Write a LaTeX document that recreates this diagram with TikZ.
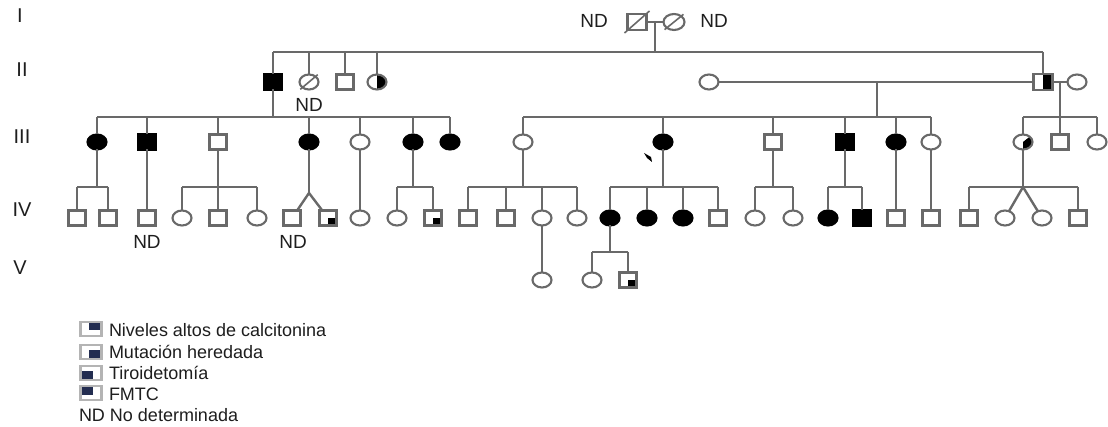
\documentclass[tikz,border=0pt]{standalone}
\usepackage{fontspec}
\setmainfont{Liberation Sans}
\usetikzlibrary{shapes.geometric}
\definecolor{lncol}{RGB}{105,105,105}
\definecolor{txcol}{RGB}{30,30,30}
\definecolor{lgcol}{RGB}{180,180,180}
\definecolor{nvcol}{RGB}{35,45,80}
\begin{document}
\begin{tikzpicture}[x=1pt,y=-1pt,
  every node/.style={inner sep=0pt, outer sep=0pt},
  ln/.style={draw=lncol, line width=2.4pt},
  sq/.style={rectangle, draw=lncol, line width=2.1pt, fill=white, minimum width=17pt, minimum height=15pt},
  ci/.style={ellipse, draw=lncol, line width=2.1pt, fill=white, minimum width=19pt, minimum height=15pt},
  aff/.style={fill=black, draw=black},
  halfr/.style={path picture={\fill[black] (path picture bounding box.north) rectangle (path picture bounding box.south east);}},
  mut/.style={path picture={\fill[black] (path picture bounding box.center) rectangle ([shift={(-1,-1)}]path picture bounding box.south east);}},
  wedge/.style={path picture={\fill[black] (path picture bounding box.center) -- (path picture bounding box.north east) |- (path picture bounding box.south) -- cycle;}},
  slash/.style={draw=lncol, line width=1.6pt},
  lab/.style={font=\fontsize{20}{22}\selectfont, text=txcol},
  ndl/.style={font=\fontsize{19}{22}\selectfont, text=txcol},
  leg/.style={font=\fontsize{18}{20}\selectfont, text=txcol, anchor=west},
  legicon/.style={rectangle, draw=lgcol, line width=2.4pt, fill=white, minimum width=21pt, minimum height=14pt},
  qne/.style={path picture={\fill[nvcol] ([shift={(-2,1.5)}]path picture bounding box.center) rectangle ([shift={(-1.5,0.5)}]path picture bounding box.north east);}},
  qse/.style={path picture={\fill[nvcol] ([shift={(-2,-1.5)}]path picture bounding box.center) rectangle ([shift={(-1.5,-0.5)}]path picture bounding box.south east);}},
  qsw/.style={path picture={\fill[nvcol] ([shift={(2,-1.5)}]path picture bounding box.center) rectangle ([shift={(1.5,-0.5)}]path picture bounding box.south west);}},
  qnw/.style={path picture={\fill[nvcol] ([shift={(2,1.5)}]path picture bounding box.center) rectangle ([shift={(1.5,0.5)}]path picture bounding box.north west);}}
]
\fill[white] (0,0) rectangle (1108,427);
\useasboundingbox (0,0) rectangle (1108,427);

% level coordinates
\coordinate (L2) at (0,52);
\coordinate (L3) at (0,117);
\coordinate (L4) at (0,187);
\coordinate (L5) at (0,252);

% generation labels
\node[lab] (gI) at (20,16) {I};
\node[lab] (gII) at (22,70) {II};
\node[lab] (gIII) at (22,137) {III};
\node[lab] (gIV) at (22,210) {IV};
\node[lab] (gV) at (20,268) {V};

% ---------------- Generation I
\node[sq, minimum width=19pt, minimum height=16pt] (I1) at (637,22) {};
\node[ci, minimum width=21pt, minimum height=16pt] (I2) at (674,22) {};
\coordinate (m1) at (655,22);
\node[ndl] (ndI1) at (594,21) {ND};
\node[ndl] (ndI2) at (714,21) {ND};

% ---------------- Generation II
\node[sq, aff] (II1) at (273,82) {};
\node[ci] (II2) at (309,82) {};
\node[sq] (II3) at (345,82) {};
\node[ci, halfr] (II4) at (377,82) {};
\node[ci] (II5) at (709,82) {};
\node[sq, halfr, minimum width=19pt, minimum height=16pt] (II6) at (1043,82) {};
\node[ci] (II7) at (1077,82) {};
\coordinate (m2) at (877,82);
\coordinate (m3) at (1060,82);
\node[ndl] (ndII2) at (309,104.5) {ND};

% ---------------- Generation III
\node[ci, aff] (A1) at (97,142) {};
\node[sq, aff] (A2) at (147,142) {};
\node[sq] (A3) at (218,142) {};
\node[ci, aff] (A4) at (309,142) {};
\node[ci] (A5) at (360,142) {};
\node[ci, aff] (A6) at (413,142) {};
\node[ci, aff] (A7) at (450,142) {};
\node[ci] (B1) at (523,142) {};
\node[ci, aff] (B2) at (663,142) {};
\node[sq] (B3) at (773,142) {};
\node[sq, aff] (B4) at (845,142) {};
\node[ci, aff] (B5) at (896,142) {};
\node[ci] (B6) at (931,142) {};
\node[ci, wedge] (C1) at (1023,142) {};
\node[sq] (C2) at (1060,142) {};
\node[ci] (C3) at (1097,142) {};

% ---------------- Generation IV
\node[sq] (D1) at (77,218) {};
\node[sq] (D2) at (108,218) {};
\node[sq] (D3) at (147,218) {};
\node[ci] (D4) at (182,218) {};
\node[sq] (D5) at (218,218) {};
\node[ci] (D6) at (257,218) {};
\node[sq] (D7) at (292,218) {};
\node[sq, mut] (D8) at (328,218) {};
\node[ci] (D9) at (360,218) {};
\node[ci] (D10) at (397,218) {};
\node[sq, mut] (D11) at (433,218) {};
\node[sq] (E1) at (468,218) {};
\node[sq] (E2) at (506,218) {};
\node[ci] (E3) at (542,218) {};
\node[ci] (E4) at (577,218) {};
\node[ci, aff] (E5) at (610,218) {};
\node[ci, aff] (E6) at (647,218) {};
\node[ci, aff] (E7) at (683,218) {};
\node[sq] (E8) at (718,218) {};
\node[ci] (E9) at (755,218) {};
\node[ci] (E10) at (793,218) {};
\node[ci, aff] (E11) at (828,218) {};
\node[sq, aff] (E12) at (862,218) {};
\node[sq] (E13) at (896,218) {};
\node[sq] (E14) at (931,218) {};
\node[sq] (F1) at (969,218) {};
\node[ci] (F2) at (1005,218) {};
\node[ci] (F3) at (1042,218) {};
\node[sq] (F4) at (1078,218) {};
\coordinate (t1) at (309,193);
\coordinate (t2) at (1023,187);
\node[ndl] (ndD3) at (147,242) {ND};
\node[ndl] (ndD7) at (293,242) {ND};

% ---------------- Generation V
\node[ci] (G1) at (542,280) {};
\node[ci] (G2) at (592,280) {};
\node[sq, mut] (G3) at (628,280) {};

% ---------------- connectors
% generation I
\draw[ln] (I1) -- (I2);
\draw[ln] (m1) -- (m1 |- L2);
\draw[slash] ([shift={(-3,3)}]I1.south west) -- ([shift={(3,-3)}]I1.north east);
\draw[slash] ([shift={(-2,2)}]I2.south west) -- ([shift={(2,-2)}]I2.north east);
\draw[ln] (II1 |- L2) -- (II6 |- L2);
\foreach \n in {II1,II2,II3,II4,II6} \draw[ln] (\n |- L2) -- (\n);
\draw[slash] ([shift={(-2,2)}]II2.south west) -- ([shift={(2,-2)}]II2.north east);
% generation II marriages
\draw[ln] (II5) -- (II6);
\draw[ln] (II6) -- (II7);
% family A
\draw[ln] (II1) -- (II1 |- L3);
\draw[ln] (A1 |- L3) -- (A7 |- L3);
\foreach \n in {A1,A2,A3,A4,A5,A6,A7} \draw[ln] (\n |- L3) -- (\n);
% family B
\draw[ln] (m2) -- (m2 |- L3);
\draw[ln] (B1 |- L3) -- (B6 |- L3);
\foreach \n in {B1,B2,B3,B4,B5,B6} \draw[ln] (\n |- L3) -- (\n);
% family C
\draw[ln] (m3) -- (m3 |- L3);
\draw[ln] (C1 |- L3) -- (C3 |- L3);
\foreach \n in {C1,C2,C3} \draw[ln] (\n |- L3) -- (\n);

% generation IV sibships
\draw[ln] (A1) -- (A1 |- L4);
\draw[ln] (D1 |- L4) -- (D2 |- L4);
\foreach \n in {D1,D2} \draw[ln] (\n |- L4) -- (\n);
\draw[ln] (A2) -- (D3);
\draw[ln] (A3) -- (A3 |- L4);
\draw[ln] (D4 |- L4) -- (D6 |- L4);
\foreach \n in {D4,D5,D6} \draw[ln] (\n |- L4) -- (\n);
\draw[ln] (A4) -- (t1);
\draw[ln] (t1) -- (D7);
\draw[ln] (t1) -- (D8);
\draw[ln] (A5) -- (D9);
\draw[ln] (A6) -- (A6 |- L4);
\draw[ln] (D10 |- L4) -- (D11 |- L4);
\foreach \n in {D10,D11} \draw[ln] (\n |- L4) -- (\n);
\draw[ln] (B1) -- (B1 |- L4);
\draw[ln] (E1 |- L4) -- (E4 |- L4);
\foreach \n in {E1,E2,E3,E4} \draw[ln] (\n |- L4) -- (\n);
\draw[ln] (B2) -- (B2 |- L4);
\draw[ln] (E5 |- L4) -- (E8 |- L4);
\foreach \n in {E5,E6,E7,E8} \draw[ln] (\n |- L4) -- (\n);
\draw[ln] (B3) -- (B3 |- L4);
\draw[ln] (E9 |- L4) -- (E10 |- L4);
\foreach \n in {E9,E10} \draw[ln] (\n |- L4) -- (\n);
\draw[ln] (B4) -- (B4 |- L4);
\draw[ln] (E11 |- L4) -- (E12 |- L4);
\foreach \n in {E11,E12} \draw[ln] (\n |- L4) -- (\n);
\draw[ln] (B5) -- (E13);
\draw[ln] (B6) -- (E14);
\draw[ln] (C1) -- (t2);
\draw[ln] (F1 |- L4) -- (F4 |- L4);
\foreach \n in {F1,F4} \draw[ln] (\n |- L4) -- (\n);
\draw[ln] (t2) -- (F2);
\draw[ln] (t2) -- (F3);

% generation V
\draw[ln] (E3) -- (G1);
\draw[ln] (E5) -- (E5 |- L5);
\draw[ln] (G2 |- L5) -- (G3 |- L5);
\foreach \n in {G2,G3} \draw[ln] (\n |- L5) -- (\n);

% small stray mark near III-B2
\fill[black] (644,153) -- (651,157) -- (652,162) -- (647,158) -- cycle;

% ---------------- legend
\node[legicon, qne] (k1) at (91,329) {};
\node[legicon, qse] (k2) at (91,352) {};
\node[legicon, qsw] (k3) at (91,373) {};
\node[legicon, qnw] (k4) at (91,393) {};
\node[leg] (t1l) at (109,330) {Niveles altos de calcitonina};
\node[leg] (t2l) at (109,352) {Mutación heredada};
\node[leg] (t3l) at (109,373) {Tiroidetomía};
\node[leg] (t4l) at (109,394) {FMTC};
\node[leg] (t5l) at (79,415) {ND No determinada};
\end{tikzpicture}
\end{document}
